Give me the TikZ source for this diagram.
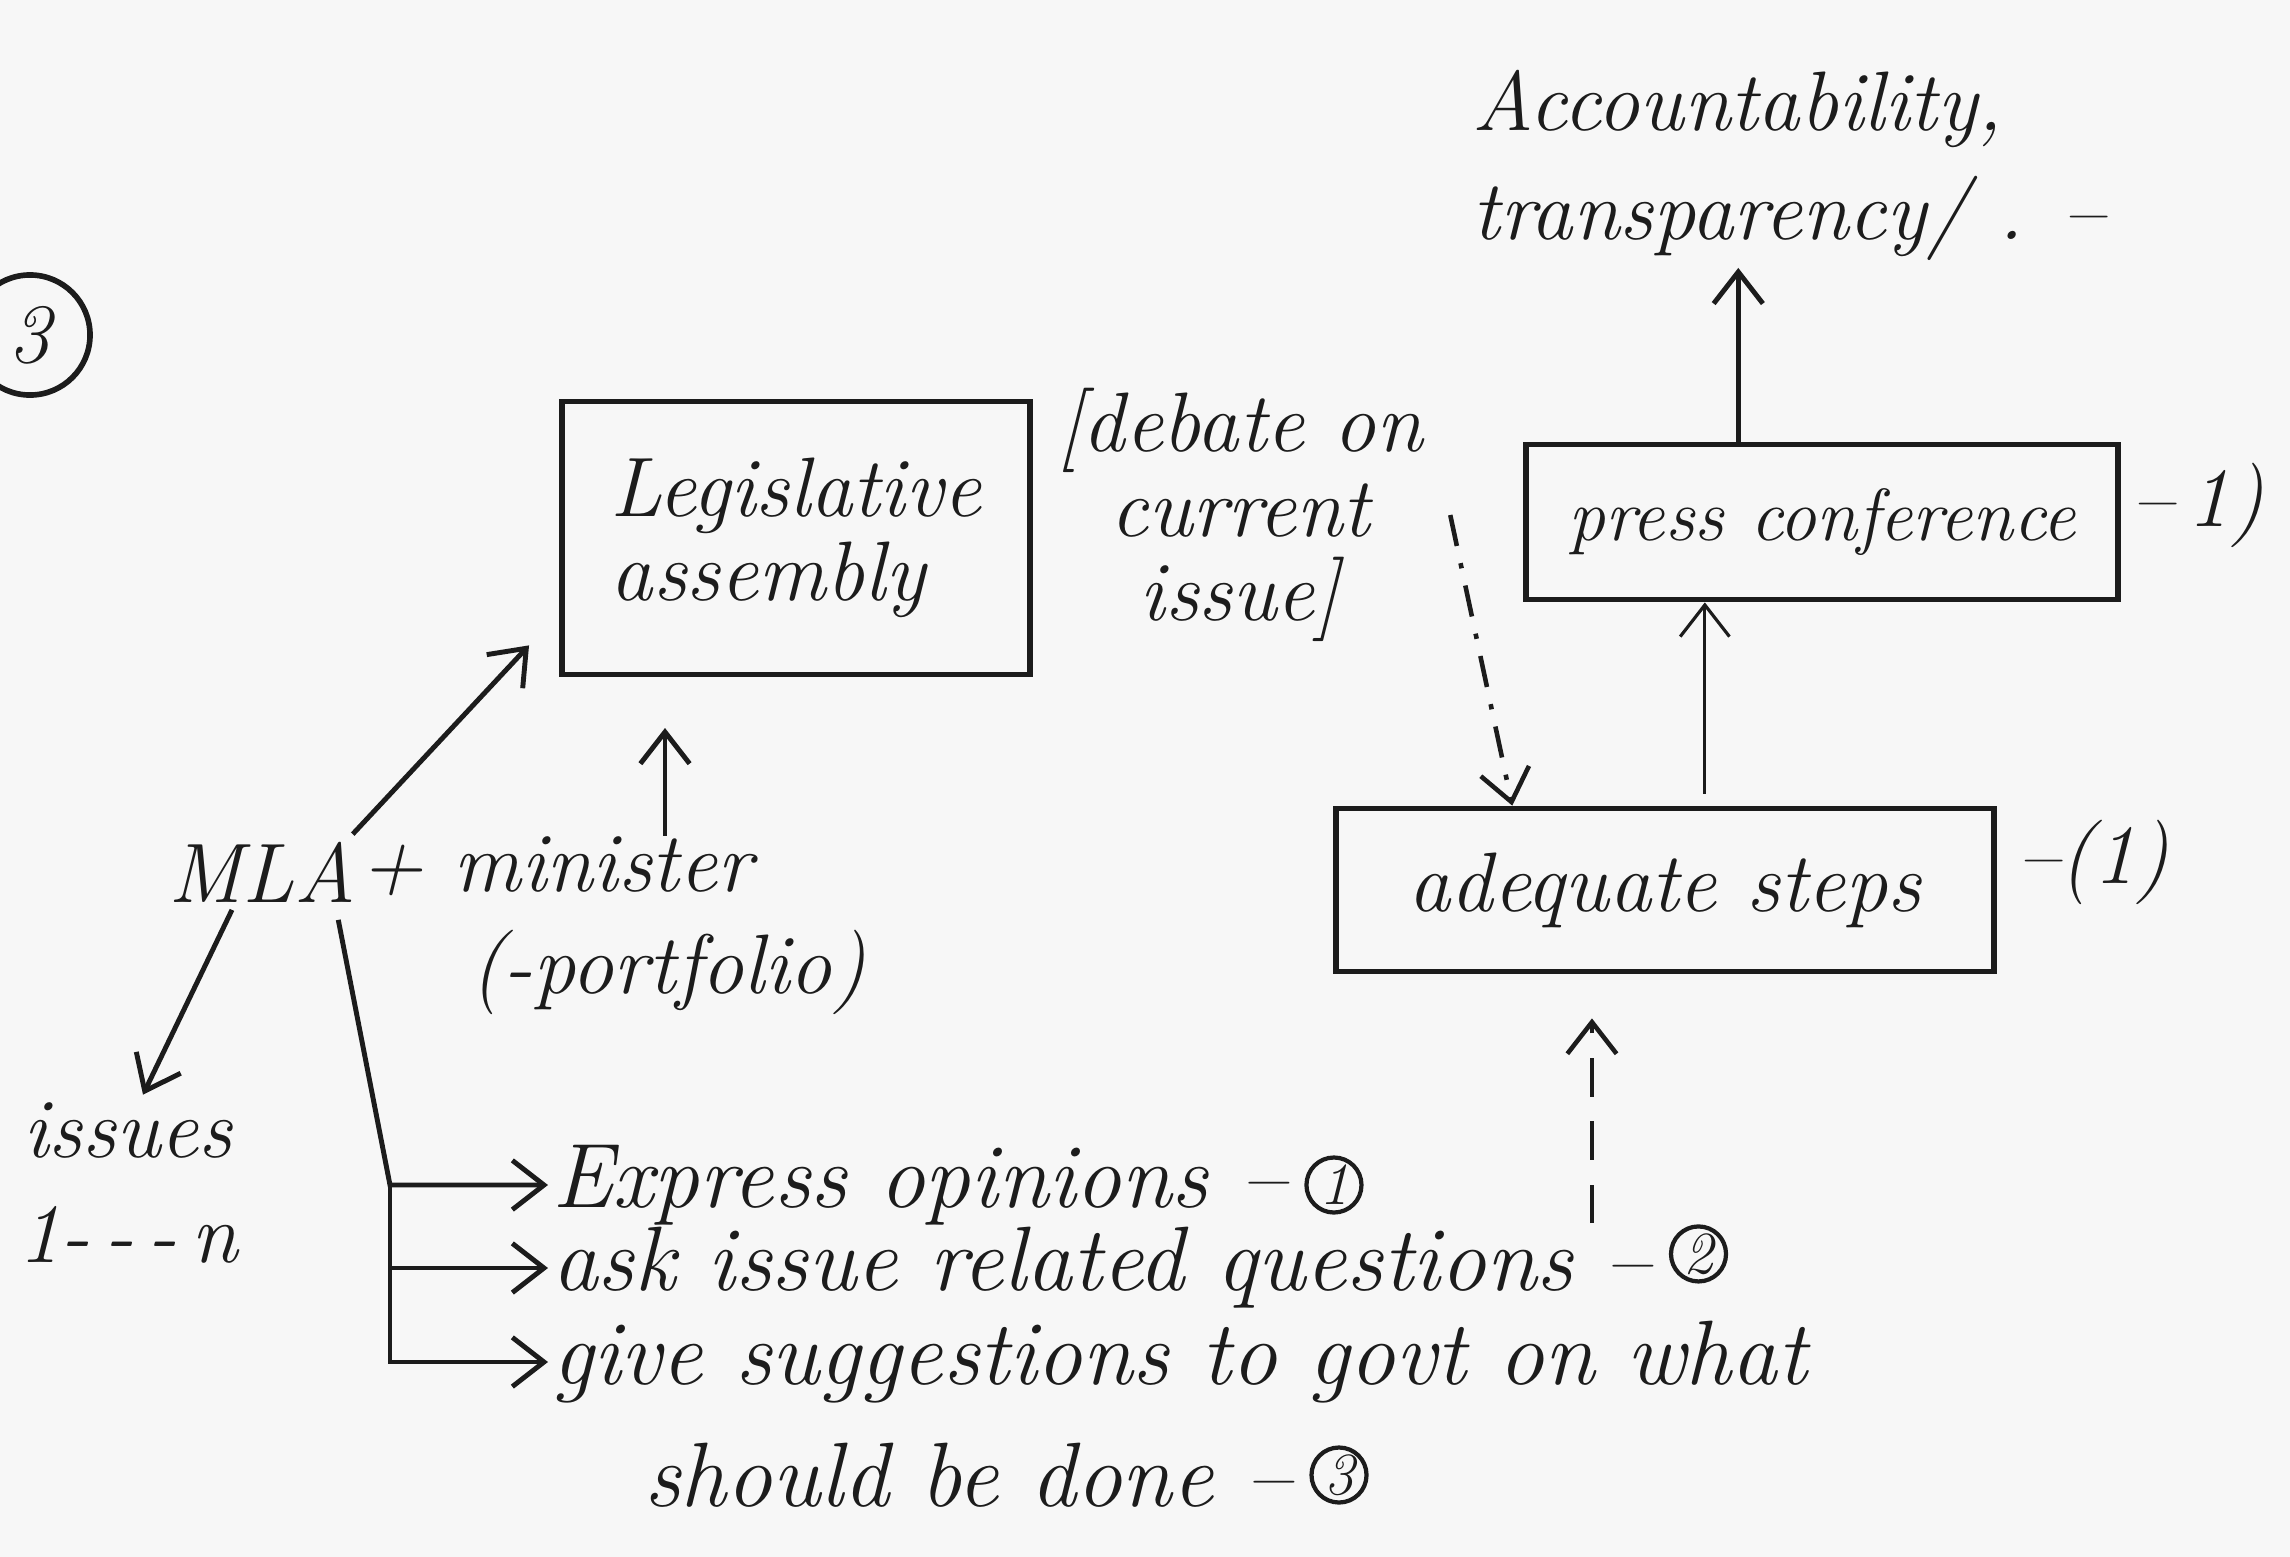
\documentclass[tikz,border=0pt]{standalone}
\usetikzlibrary{arrows.meta,calc}
\definecolor{paper}{RGB}{247,247,247}
\definecolor{ink}{RGB}{28,28,28}
\begin{document}
\begin{tikzpicture}[x=0.01cm,y=-0.01cm,
  every node/.style={text=ink},
  hand/.style={font=\fontsize{24}{24}\selectfont\itshape, inner sep=2pt},
  list/.style={font=\fontsize{26}{26}\selectfont\itshape, inner sep=1pt},
  box/.style={hand, draw=ink, line width=1.6pt, rectangle, inner sep=0pt},
  arr/.style={draw=ink, line width=1.4pt, -{Straight Barb[length=9pt,width=14pt]}},
  thinarr/.style={arr, line width=0.9pt},
  dotarr/.style={arr, line width=1.3pt, dash pattern=on 9pt off 5pt on 1.5pt off 5pt},
  dasharr/.style={arr, line width=1.3pt, dash pattern=on 11pt off 7pt},
  cnum/.style={draw=ink, circle, line width=1.2pt, inner sep=0pt, minimum size=0.55cm,
    font=\fontsize{17}{17}\selectfont\itshape}]

% paper and page extent
\fill[paper] (0,0) rectangle (2290,1557);
\useasboundingbox (0,0) rectangle (2290,1557);

% section number
\node[circle, draw=ink, line width=1.6pt, minimum size=1.2cm, hand] (sec) at (30,335) {3};

% outcome at the top
\node[hand, font=\fontsize{24}{31}\selectfont\itshape, align=left, anchor=west] (acc) at (1465,165)
  {Accountability,\\transparency/ . --};

% boxes
\node[box, minimum width=4.68cm, minimum height=2.73cm, align=left] (leg) at (796,538)
  {Legislative\\assembly};
\node[hand, align=center] (debate) at (1240,515) {[debate on\\current\\issue]};
\node[box, minimum width=5.92cm, minimum height=1.55cm, font=\fontsize{21}{21}\selectfont\itshape]
  (press) at (1822,522) {press conference};
\node[hand, anchor=west] (presstag) at (2124,505) {--\,1)};
\node[box, minimum width=6.58cm, minimum height=1.63cm] (steps) at (1665,890) {adequate steps};
\node[hand, anchor=west] (stepstag) at (2010,862) {--(1)};

% actors
\node[hand] (mla) at (262,872) {MLA};
\node[hand, anchor=west, inner sep=0pt] (minister) at (360,866) {+ minister};
\node[hand, inner sep=0pt] (portfolio) at (668,972) {(-portfolio)};
\node[hand, align=center, font=\fontsize{24}{30}\selectfont\itshape] (issues) at (128,1183)
  {issues\\1-\,-\,-\,n};

% roles in the assembly
\node[list, anchor=west] (express) at (548,1185) {Express opinions --};
\node[cnum, anchor=west] (n1) at ([xshift=4pt]express.east) {1};
\node[list, anchor=west] (ask) at (548,1268) {ask issue related questions --};
\node[cnum, anchor=west] (n2) at ([xshift=4pt,yshift=4pt]ask.east) {2};
\node[list, anchor=west] (give) at (548,1362) {give suggestions to govt on what};
\node[list, anchor=west] (should) at (640,1475) {should be done --};
\node[cnum, anchor=west] (n3) at ([xshift=4pt]should.east) {3};

% helper points
\coordinate (legIn) at (665,728);
\coordinate (trunk) at (390,0);
\coordinate (dTip) at ($(steps.north west)!0.27!(steps.north east)$);
\coordinate (upA) at ($(steps.north west)!0.56!(steps.north east)$);
\coordinate (upB) at ($(press.north west)!0.36!(press.north east)$);
\coordinate (upC) at ($(steps.south west)!0.39!(steps.south east)$);

% connectors
\draw[arr] ([xshift=-3pt]mla.north east) -- ([xshift=-0.3cm,yshift=0.32cm]leg.south west);
\draw[arr] (minister.north -| legIn) -- (legIn);
\draw[arr] ([xshift=-0.3cm]mla.south) -- ([xshift=0.15cm]issues.north);
\draw[arr] ([xshift=-0.25cm,yshift=-0.1cm]mla.south east) -- (trunk |- express.west) -- (express.west);
\draw[arr] (trunk |- express.west) |- (give.west);
\draw[arr] (trunk |- ask.west) -- (ask.west);
\draw[dotarr] ([xshift=0.2cm]debate.east) -- (dTip);
\draw[thinarr] ([yshift=0.12cm]upA) -- (upA |- press.south);
\draw[arr] (upB) -- (upB |- acc.south);
\draw[dasharr] (upC |- ask.north) -- ([yshift=-0.44cm]upC);
\end{tikzpicture}
\end{document}
